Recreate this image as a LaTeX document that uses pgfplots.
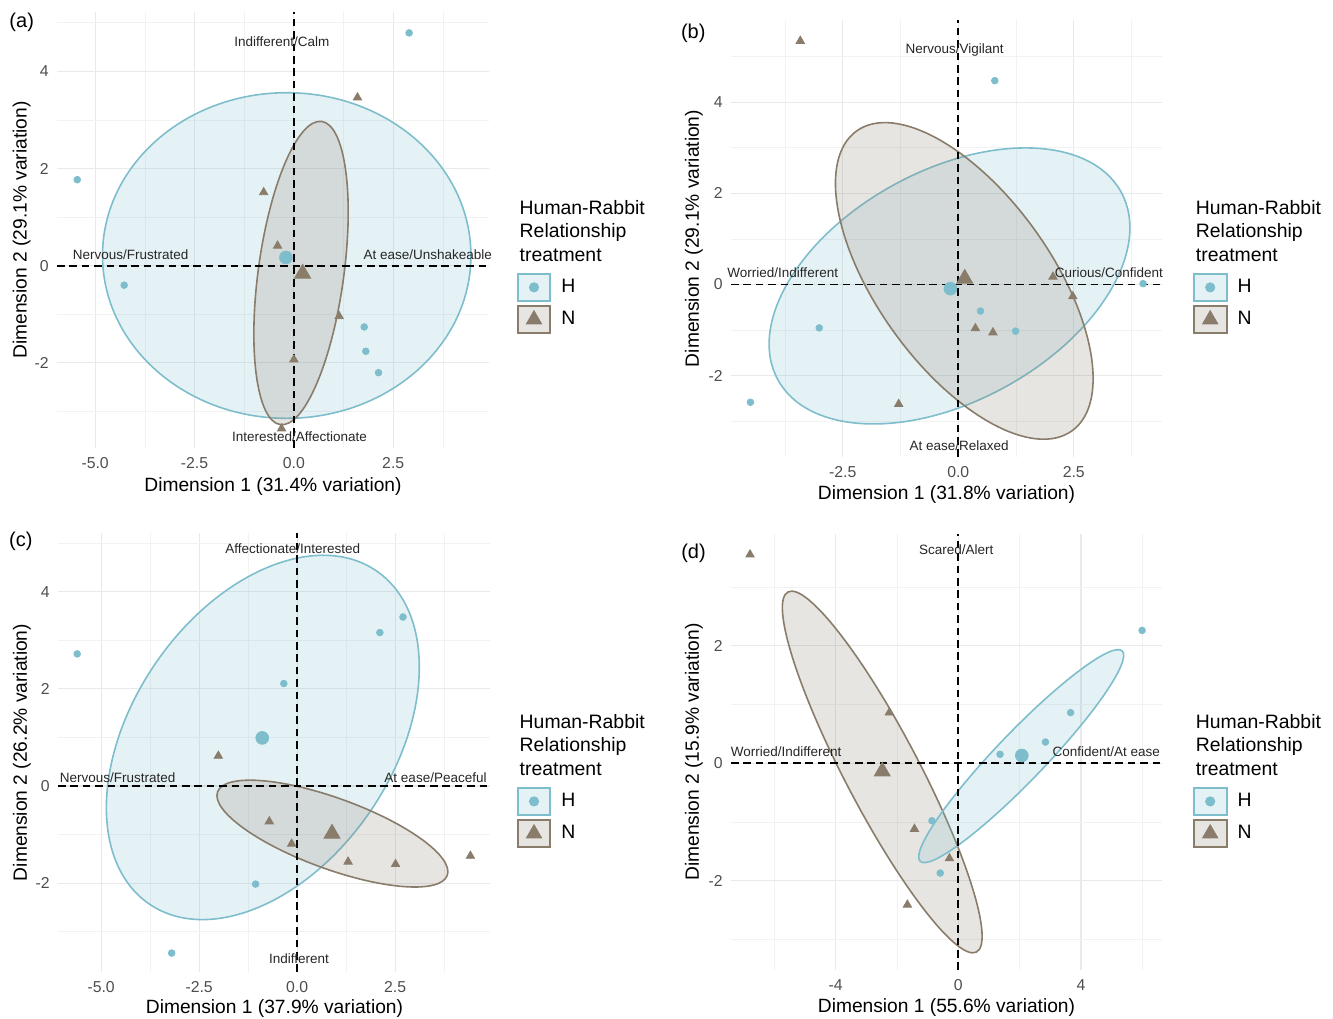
\documentclass[border=0pt]{standalone}
\usepackage{fontspec}
\setmainfont{Liberation Sans}
\usepackage{pgfplots}
\pgfplotsset{compat=1.18}

\definecolor{hcol}{RGB}{126,190,204}
\definecolor{ncol}{RGB}{137,124,106}
\definecolor{tickgray}{RGB}{77,77,77}
\definecolor{gridmaj}{RGB}{233,233,233}
\definecolor{gridmin}{RGB}{242,242,242}

\pgfplotsset{
  panel/.style={
    scale only axis, clip=false,
    axis line style={draw=none},
    major tick length=0pt, minor tick length=0pt,
    grid=both,
    major grid style={gridmaj, line width=0.55pt},
    minor grid style={gridmin, line width=0.3pt},
    tick label style={font=\fontsize{7.9}{9}\selectfont, text=tickgray, inner sep=0pt},
    xticklabel style={yshift=-4.6pt},
    yticklabel style={xshift=-4pt},
    legend style={draw=none, fill=none, inner sep=0pt, outer sep=0pt,
      row sep=1.35pt, column sep=5pt, anchor=north west,
      font=\fontsize{9.7}{11}\selectfont,
      nodes={inner sep=0pt, outer sep=0pt}},
    legend cell align=left,
  },
  hpts/.style={only marks, mark=*, mark size=1.67pt, color=hcol, forget plot},
  npts/.style={only marks, mark=triangle*, mark size=2.4pt, color=ncol, forget plot},
  hmean/.style={hpts, mark size=3.2pt},
  nmean/.style={npts, mark size=4.6pt},
  zeroline/.style={black, line width=0.9pt, dash pattern=on 3.8pt off 2.4pt, forget plot},
}
\tikzset{
  hell/.style={draw=hcol, fill=hcol, fill opacity=0.2, line width=0.8pt},
  nell/.style={draw=ncol, fill=ncol, fill opacity=0.2, line width=0.8pt},
  lab/.style={font=\fontsize{6.75}{8}\selectfont, text=black!85, inner sep=0pt},
  ttl/.style={font=\fontsize{9.6}{11}\selectfont, inner sep=0pt},
  tag/.style={font=\fontsize{10}{12}\selectfont, inner sep=0pt},
  legt/.style={anchor=north west, align=left, font=\fontsize{9.7}{11.65}\selectfont, inner sep=0pt},
}

\newcommand{\treatlegend}{%
  \addlegendimage{legend image code/.code={
    \draw[draw=hcol, fill=hcol!20, line width=1pt] (0pt,-6.85pt) rectangle (16.3pt,6.85pt);
    \fill[hcol] (8.15pt,0pt) circle (2.33pt);}}
  \addlegendentry{H}
  \addlegendimage{legend image code/.code={
    \draw[draw=ncol, fill=ncol!20, line width=1pt] (0pt,-6.85pt) rectangle (16.3pt,6.85pt);
    \fill[ncol] (8.15pt,4.4pt) -- (4.34pt,-2.2pt) -- (11.96pt,-2.2pt) -- cycle;}}
  \addlegendentry{N}
}

\begin{document}
\begin{tikzpicture}
\useasboundingbox (0,0) rectangle (666.5pt,509pt);

% (a)
\begin{axis}[panel, at={(28.5pt,285pt)}, anchor=south west, width=216pt, height=218pt,
  xmin=-5.96, xmax=4.91, ymin=-3.75, ymax=5.22,
  xtick={-5,-2.5,0,2.5}, xticklabels={-5.0,-2.5,0.0,2.5},
  minor xtick={-3.75,-1.25,1.25,3.75},
  ytick={-2,0,2,4}, yticklabels={-2,0,2,4},
  minor ytick={-3,-1,1,3,5},
  legend style={at={(axis description cs:1.0641,0.4021)}}]
  \draw[hell] (axis cs:-0.18,0.21) ellipse [x radius=92.1pt, y radius=81.4pt];
  \draw[nell] (axis cs:0.18,-0.15) ellipse [x radius=76.5pt, y radius=21.4pt, rotate=82.25];
  \addplot[zeroline] coordinates {(-5.96,0) (4.91,0)};
  \addplot[zeroline] coordinates {(0,-3.75) (0,5.22)};
  \addplot[hpts] coordinates {(2.90,4.79) (-5.45,1.77) (-4.27,-0.40) (1.77,-1.26) (1.81,-1.76) (2.13,-2.20)};
  \addplot[npts] coordinates {(1.60,3.46) (-0.76,1.51) (-0.41,0.41) (1.14,-1.04) (0.00,-1.93) (-0.31,-3.35)};
  \addplot[hmean] coordinates {(-0.20,0.17)};
  \addplot[nmean] coordinates {(0.22,-0.16)};
  \node[lab] at (axis cs:-0.30,4.60) {Indifferent/Calm};
  \node[lab] at (axis cs:-4.11,0.22) {Nervous/Frustrated};
  \node[lab] at (axis cs:3.37,0.22) {At ease/Unshakeable};
  \node[lab] at (axis cs:0.14,-3.51) {Interested/Affectionate};
  \treatlegend
\end{axis}

% (b)
\begin{axis}[panel, at={(365.5pt,280.5pt)}, anchor=south west, width=215.5pt, height=218.5pt,
  xmin=-4.92, xmax=4.41, ymin=-3.78, ymax=5.80,
  xtick={-2.5,0,2.5}, xticklabels={-2.5,0.0,2.5},
  minor xtick={-3.75,-1.25,1.25,3.75},
  ytick={-2,0,2,4}, yticklabels={-2,0,2,4},
  minor ytick={-3,-1,1,3,5},
  legend style={at={(axis description cs:1.0717,0.4217)}}]
  \draw[hell] (axis cs:-0.19,-0.03) ellipse [x radius=97.8pt, y radius=57.7pt, rotate=28.65];
  \draw[nell] (axis cs:0.13,0.08) ellipse [x radius=92.3pt, y radius=43.5pt, rotate=-54.3];
  \addplot[zeroline] coordinates {(-4.92,0) (4.41,0)};
  \addplot[zeroline] coordinates {(0,-3.78) (0,5.80)};
  \addplot[hpts] coordinates {(0.79,4.47) (-3.01,-0.95) (-4.50,-2.58) (0.48,-0.58) (1.24,-1.02) (4.00,0.02)};
  \addplot[npts] coordinates {(-3.42,5.34) (-1.29,-2.62) (0.37,-0.96) (0.75,-1.05) (2.05,0.17) (2.48,-0.26)};
  \addplot[hmean] coordinates {(-0.17,-0.09)};
  \addplot[nmean] coordinates {(0.14,0.13)};
  \node[lab] at (axis cs:-0.08,5.15) {Nervous/Vigilant};
  \node[lab] at (axis cs:-3.80,0.26) {Worried/Indifferent};
  \node[lab] at (axis cs:3.26,0.26) {Curious/Confident};
  \node[lab] at (axis cs:0.02,-3.54) {At ease/Relaxed};
  \treatlegend
\end{axis}

% (c)
\begin{axis}[panel, at={(29pt,23pt)}, anchor=south west, width=216pt, height=219.5pt,
  xmin=-6.10, xmax=4.92, ymin=-3.83, ymax=5.21,
  xtick={-5,-2.5,0,2.5}, xticklabels={-5.0,-2.5,0.0,2.5},
  minor xtick={-3.75,-1.25,1.25,3.75},
  ytick={-2,0,2,4}, yticklabels={-2,0,2,4},
  minor ytick={-3,-1,1,3,5},
  legend style={at={(axis description cs:1.0618,0.4221)}}]
  \draw[hell] (axis cs:-0.875,1.00) ellipse [x radius=100.8pt, y radius=65.2pt, rotate=55.78];
  \draw[nell] (axis cs:0.90,-0.98) ellipse [x radius=61.1pt, y radius=17.7pt, rotate=-20.0];
  \addplot[zeroline] coordinates {(-6.10,0) (4.92,0)};
  \addplot[zeroline] coordinates {(0,-3.83) (0,5.21)};
  \addplot[hpts] coordinates {(-5.61,2.72) (2.11,3.16) (2.70,3.48) (-0.34,2.11) (-1.06,-2.02) (-3.20,-3.44)};
  \addplot[npts] coordinates {(-2.01,0.62) (-0.71,-0.73) (-0.14,-1.19) (1.30,-1.56) (2.51,-1.61) (4.42,-1.44)};
  \addplot[hmean] coordinates {(-0.89,0.99)};
  \addplot[nmean] coordinates {(0.89,-0.98)};
  \node[lab] at (axis cs:-0.11,4.88) {Affectionate/Interested};
  \node[lab] at (axis cs:-4.58,0.18) {Nervous/Frustrated};
  \node[lab] at (axis cs:3.53,0.18) {At ease/Peaceful};
  \node[lab] at (axis cs:0.05,-3.55) {Indifferent};
  \treatlegend
\end{axis}

% (d)
\begin{axis}[panel, at={(365.5pt,24pt)}, anchor=south west, width=215.5pt, height=218pt,
  xmin=-7.41, xmax=6.64, ymin=-3.52, ymax=3.90,
  xtick={-4,0,4}, xticklabels={-4,0,4},
  minor xtick={-6,-2,2,6},
  ytick={-2,0,2}, yticklabels={-2,0,2},
  minor ytick={-3,-1,1,3},
  legend style={at={(axis description cs:1.0717,0.4204)}}]
  \draw[nell] (axis cs:-2.48,-0.15) ellipse [x radius=101.6pt, y radius=18.6pt, rotate=-62.36];
  \draw[hell] (axis cs:2.05,0.12) ellipse [x radius=72.9pt, y radius=12.1pt, rotate=46.16];
  \addplot[zeroline] coordinates {(-7.41,0) (6.64,0)};
  \addplot[zeroline] coordinates {(0,-3.52) (0,3.90)};
  \addplot[hpts] coordinates {(5.99,2.26) (3.66,0.86) (2.84,0.36) (1.36,0.15) (-0.86,-0.98) (-0.59,-1.87)};
  \addplot[npts] coordinates {(-6.79,3.55) (-2.25,0.86) (-1.43,-1.12) (-0.29,-1.62) (-1.66,-2.41)};
  \addplot[hmean] coordinates {(2.07,0.13)};
  \addplot[nmean] coordinates {(-2.48,-0.14)};
  \node[lab] at (axis cs:-0.07,3.64) {Scared/Alert};
  \node[lab] at (axis cs:-5.61,0.19) {Worried/Indifferent};
  \node[lab] at (axis cs:4.82,0.19) {Confident/At ease};
  \treatlegend
\end{axis}

% panel tags, axis titles, legend titles
\node[tag] at (10.85pt,498pt) {(a)};
\node[tag] at (346.65pt,492.35pt) {(b)};
\node[tag] at (10.4pt,238.5pt) {(c)};
\node[tag] at (346.75pt,232.5pt) {(d)};

\node[ttl] at (136.5pt,265.65pt) {Dimension 1 (31.4\% variation)};
\node[ttl, rotate=90] at (10.85pt,394pt) {Dimension 2 (29.1\% variation)};
\node[ttl] at (473.25pt,261.5pt) {Dimension 1 (31.8\% variation)};
\node[ttl, rotate=90] at (347pt,389.75pt) {Dimension 2 (29.1\% variation)};
\node[ttl] at (137.25pt,4.85pt) {Dimension 1 (37.9\% variation)};
\node[ttl, rotate=90] at (11pt,132.75pt) {Dimension 2 (26.2\% variation)};
\node[ttl] at (473.25pt,5pt) {Dimension 1 (55.6\% variation)};
\node[ttl, rotate=90] at (347pt,133pt) {Dimension 2 (15.9\% variation)};

\node[legt] at (259.65pt,409pt) {Human-Rabbit\\Relationship\\treatment};
\node[legt] at (597.75pt,409pt) {Human-Rabbit\\Relationship\\treatment};
\node[legt] at (259.65pt,152pt) {Human-Rabbit\\Relationship\\treatment};
\node[legt] at (597.75pt,152pt) {Human-Rabbit\\Relationship\\treatment};
\end{tikzpicture}
\end{document}
